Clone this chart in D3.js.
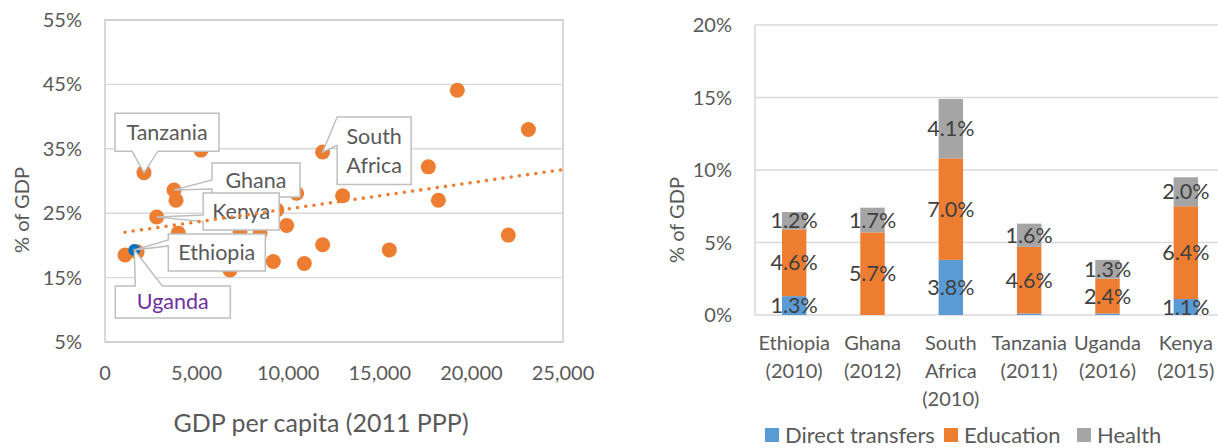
<!DOCTYPE html>
<html>
<head>
<meta charset="utf-8">
<script src="https://cdn.jsdelivr.net/npm/d3@7"></script>
<style>
  html, body { margin: 0; padding: 0; background: #fff; }
  svg { display: block; font-family: Lato, "Open Sans", sans-serif; }
</style>
</head>
<body>
<svg id="chart" width="1218" height="448"></svg>
<script>
// ---- Scatter: social spending (% of GDP) vs GDP per capita ----
const gdpPerCapita = [2129, 5240, 3766, 3876, 2820, 4000, 1092, 1750, 6823, 9187, 10880, 11880, 15520,
                      22015, 9916, 7370, 8460, 10460, 12970, 11880, 17650, 18200, 19230, 23110, 9380];
const spendShare   = [31.3, 34.8, 28.6, 27.0, 24.4, 21.9, 18.5, 19.0, 16.2, 17.5, 17.2, 20.1, 19.3,
                      21.6, 23.1, 22.1, 21.9, 28.1, 27.7, 34.5, 32.2, 27.0, 44.1, 38.0, 25.5];
// highlighted point
const highlightGdp = [1600];
const highlightShare = [19.3];

// callout labels: name, index of the point (or "h" for highlighted point)
const calloutNames = ["Tanzania", "Ghana", "Kenya", "South Africa", "Ethiopia", "Uganda"];
const calloutPoint = [0, 2, 4, 19, "h", "h"];

const scatterYTicks = [5, 15, 25, 35, 45, 55];
const scatterXTicks = [0, 5000, 10000, 15000, 20000, 25000];

// ---- Stacked bars: spending by type ----
const countries = ["Ethiopia\n(2010)", "Ghana\n(2012)", "South\nAfrica\n(2010)", "Tanzania\n(2011)", "Uganda\n(2016)", "Kenya\n(2015)"];
const seriesNames = ["Direct transfers", "Education", "Health"];
const directTransfers = [1.3, 0.0, 3.8, 0.1, 0.1, 1.1];
const education       = [4.6, 5.7, 7.0, 4.6, 2.4, 6.4];
const health          = [1.2, 1.7, 4.1, 1.6, 1.3, 2.0];
const barYTicks = [0, 5, 10, 15, 20];

const ORANGE = "#ED7D31", BLUE_PT = "#0070C0";
const seriesColors = ["#5B9BD5", "#ED7D31", "#A5A5A5"];
const GRID = "#D9D9D9", TICK_TXT = "#595959", LBL_TXT = "#404040";
const FS = 20;

const svg = d3.select("#chart");

// ================= Left panel =================
const x = d3.scaleLinear().domain([0, 25000]).range([105, 563]);
const y = d3.scaleLinear().domain([5, 55]).range([342, 20]);

const left = svg.append("g");

left.selectAll("line.grid").data(scatterYTicks).join("line")
  .attr("x1", x.range()[0]).attr("x2", x.range()[1])
  .attr("y1", d => y(d)).attr("y2", d => y(d))
  .attr("stroke", GRID).attr("stroke-width", 1.4);

left.append("rect")
  .attr("x", x.range()[0]).attr("y", y.range()[1])
  .attr("width", x.range()[1] - x.range()[0]).attr("height", y.range()[0] - y.range()[1])
  .attr("fill", "none").attr("stroke", "#CFCFCF").attr("stroke-width", 1.6);

left.selectAll("text.ytick").data(scatterYTicks).join("text")
  .attr("x", 82).attr("y", d => y(d)).attr("dy", "0.35em")
  .attr("text-anchor", "end").attr("fill", TICK_TXT).attr("font-size", FS)
  .text(d => d + "%");

const fmtComma = d3.format(",");
left.selectAll("text.xtick").data(scatterXTicks).join("text")
  .attr("x", d => x(d)).attr("y", 373).attr("dy", "0.35em")
  .attr("text-anchor", "middle").attr("fill", TICK_TXT).attr("font-size", FS)
  .text(d => fmtComma(d));

left.append("text")
  .attr("transform", "translate(22,210) rotate(-90)")
  .attr("text-anchor", "middle").attr("dy", "0.35em")
  .attr("fill", TICK_TXT).attr("font-size", FS).text("% of GDP");

left.append("text")
  .attr("x", 321).attr("y", 423).attr("dy", "0.35em")
  .attr("text-anchor", "middle").attr("fill", TICK_TXT).attr("font-size", 25)
  .text("GDP per capita (2011 PPP)");

const pts = gdpPerCapita.map((g, i) => ({ g, s: spendShare[i] }));
left.selectAll("circle.pt").data(pts).join("circle")
  .attr("cx", d => x(d.g)).attr("cy", d => y(d.s)).attr("r", 7.5)
  .attr("fill", ORANGE);

left.selectAll("circle.hl").data(highlightGdp.map((g, i) => ({ g, s: highlightShare[i] }))).join("circle")
  .attr("cx", d => x(d.g)).attr("cy", d => y(d.s)).attr("r", 6)
  .attr("fill", BLUE_PT);

// callouts: box position relative to the point, pointer base on one box side
const calloutLayout = {
  "Tanzania":     { dx: -29, dy: -59.5, w: 104, h: 38, side: "bottom", b0: -12, b1: 14 },
  "Ghana":        { dx: 38,  dy: -27,   w: 88,  h: 34, side: "left",   b0: -10, b1: -1 },
  "Kenya":        { dx: 46.5,dy: -24,   w: 76,  h: 37, side: "left",   b0: -2,  b1: 4.5 },
  "South Africa": { dx: 14.5,dy: -35,   w: 74,  h: 67.5, side: "left", b0: -35, b1: -6.5 },
  "Ethiopia":     { dx: 34,  dy: -16,   w: 97,  h: 37, side: "left",   b0: -10, b1: -4 },
  "Uganda":       { dx: -19, dy: 36,    w: 115, h: 32, side: "top",    b0: 1,   b1: 28 }
};
const nameColors = { "Uganda": "#7030A0" };

calloutNames.forEach((name, i) => {
  const p = calloutPoint[i] === "h"
    ? { g: highlightGdp[0], s: highlightShare[0] }
    : pts[calloutPoint[i]];
  const px = x(p.g), py = y(p.s);
  const L = calloutLayout[name];
  const bx = px + L.dx, by = py + L.dy, bw = L.w, bh = L.h;
  let poly;
  if (L.side === "bottom") {
    poly = [[bx, by], [bx + bw, by], [bx + bw, by + bh], [px + L.b1, by + bh], [px, py],
            [px + L.b0, by + bh], [bx, by + bh]];
  } else if (L.side === "left") {
    poly = [[bx, by], [bx + bw, by], [bx + bw, by + bh], [bx, by + bh], [bx, py + L.b1],
            [px, py], [bx, Math.max(by, py + L.b0)]];
  } else {
    poly = [[bx, by], [px + L.b0, by], [px, py], [px + L.b1, by], [bx + bw, by],
            [bx + bw, by + bh], [bx, by + bh]];
  }
  const g = left.append("g");
  g.append("path")
    .attr("d", d3.line()(poly) + "Z")
    .attr("fill", "#fff").attr("stroke", "#BFBFBF").attr("stroke-width", 1.5)
    .attr("stroke-linejoin", "miter");
  const lines = name.split(" ");
  const lh = 29;
  const cy0 = by + bh / 2 - (lines.length - 1) * lh / 2;
  g.selectAll("text").data(lines).join("text")
    .attr("x", bx + bw / 2).attr("y", (d, k) => cy0 + k * lh).attr("dy", "0.35em")
    .attr("text-anchor", "middle").attr("font-size", 21.5)
    .attr("fill", nameColors[name] || TICK_TXT)
    .text(d => d);
});

// linear trendline (least squares over the orange series)
const mx = d3.mean(gdpPerCapita), my = d3.mean(spendShare);
const sxy = d3.sum(gdpPerCapita, (g, i) => (g - mx) * (spendShare[i] - my));
const sxx = d3.sum(gdpPerCapita, g => (g - mx) ** 2);
const slope = sxy / sxx, icpt = my - slope * mx;
const trendX = [d3.min(gdpPerCapita), x.domain()[1]];
left.append("path")
  .attr("d", d3.line().x(d => x(d)).y(d => y(icpt + slope * d))(trendX))
  .attr("fill", "none").attr("stroke", ORANGE).attr("stroke-width", 3.6)
  .attr("stroke-linecap", "round").attr("stroke-dasharray", "0 8.3");

// ================= Right panel =================
const x2 = d3.scaleBand().domain(countries).range([755, 1225]).padding(0);
const y2 = d3.scaleLinear().domain([0, 20]).range([315, 25]);
const right = svg.append("g");

right.selectAll("line.grid").data(barYTicks).join("line")
  .attr("x1", 755).attr("x2", 1225)
  .attr("y1", d => y2(d)).attr("y2", d => y2(d))
  .attr("stroke", GRID).attr("stroke-width", 1.4);
right.append("line")
  .attr("x1", 755).attr("x2", 755).attr("y1", y2(20)).attr("y2", y2(0))
  .attr("stroke", GRID).attr("stroke-width", 1.6);

right.selectAll("text.ytick").data(barYTicks).join("text")
  .attr("x", 732).attr("y", d => y2(d)).attr("dy", "0.35em")
  .attr("text-anchor", "end").attr("fill", TICK_TXT).attr("font-size", FS)
  .text(d => d + "%");

right.append("text")
  .attr("transform", "translate(677,220) rotate(-90)")
  .attr("text-anchor", "middle").attr("dy", "0.35em")
  .attr("fill", TICK_TXT).attr("font-size", FS).text("% of GDP");

const table = countries.map((c, i) => ({
  country: c, "Direct transfers": directTransfers[i], "Education": education[i], "Health": health[i]
}));
const stacked = d3.stack().keys(seriesNames)(table);
const barW = x2.bandwidth() * 0.312;

stacked.forEach((layer, si) => {
  right.selectAll(null).data(layer).join("rect")
    .attr("x", d => x2(d.data.country) + (x2.bandwidth() - barW) / 2)
    .attr("y", d => y2(d[1]))
    .attr("width", barW)
    .attr("height", d => y2(d[0]) - y2(d[1]))
    .attr("fill", seriesColors[si]);
});
stacked.forEach(layer => {
  right.selectAll(null).data(layer.filter(d => d[1] - d[0] >= 0.5)).join("text")
    .attr("x", d => x2(d.data.country) + x2.bandwidth() / 2)
    .attr("y", d => y2((d[0] + d[1]) / 2)).attr("dy", "0.35em")
    .attr("text-anchor", "middle").attr("fill", LBL_TXT).attr("font-size", 21.5)
    .text(d => (d[1] - d[0]).toFixed(1) + "%");
});

right.selectAll("g.cat").data(countries).join("g")
  .each(function (c) {
    d3.select(this).selectAll("text").data(c.split("\n")).join("text")
      .attr("x", x2(c) + x2.bandwidth() / 2)
      .attr("y", (d, k) => 343 + k * 28).attr("dy", "0.35em")
      .attr("text-anchor", "middle").attr("fill", TICK_TXT).attr("font-size", FS)
      .text(d => d);
  });

// legend
const legendX = [765, 944, 1077];
const leg = right.selectAll("g.leg").data(seriesNames).join("g")
  .attr("transform", (d, i) => `translate(${legendX[i]},428)`);
leg.append("rect").attr("width", 14).attr("height", 14)
  .attr("fill", (d, i) => seriesColors[i]);
leg.append("text").attr("x", 20).attr("y", 7).attr("dy", "0.35em")
  .attr("fill", TICK_TXT).attr("font-size", 22).text(d => d);
</script>
</body>
</html>
